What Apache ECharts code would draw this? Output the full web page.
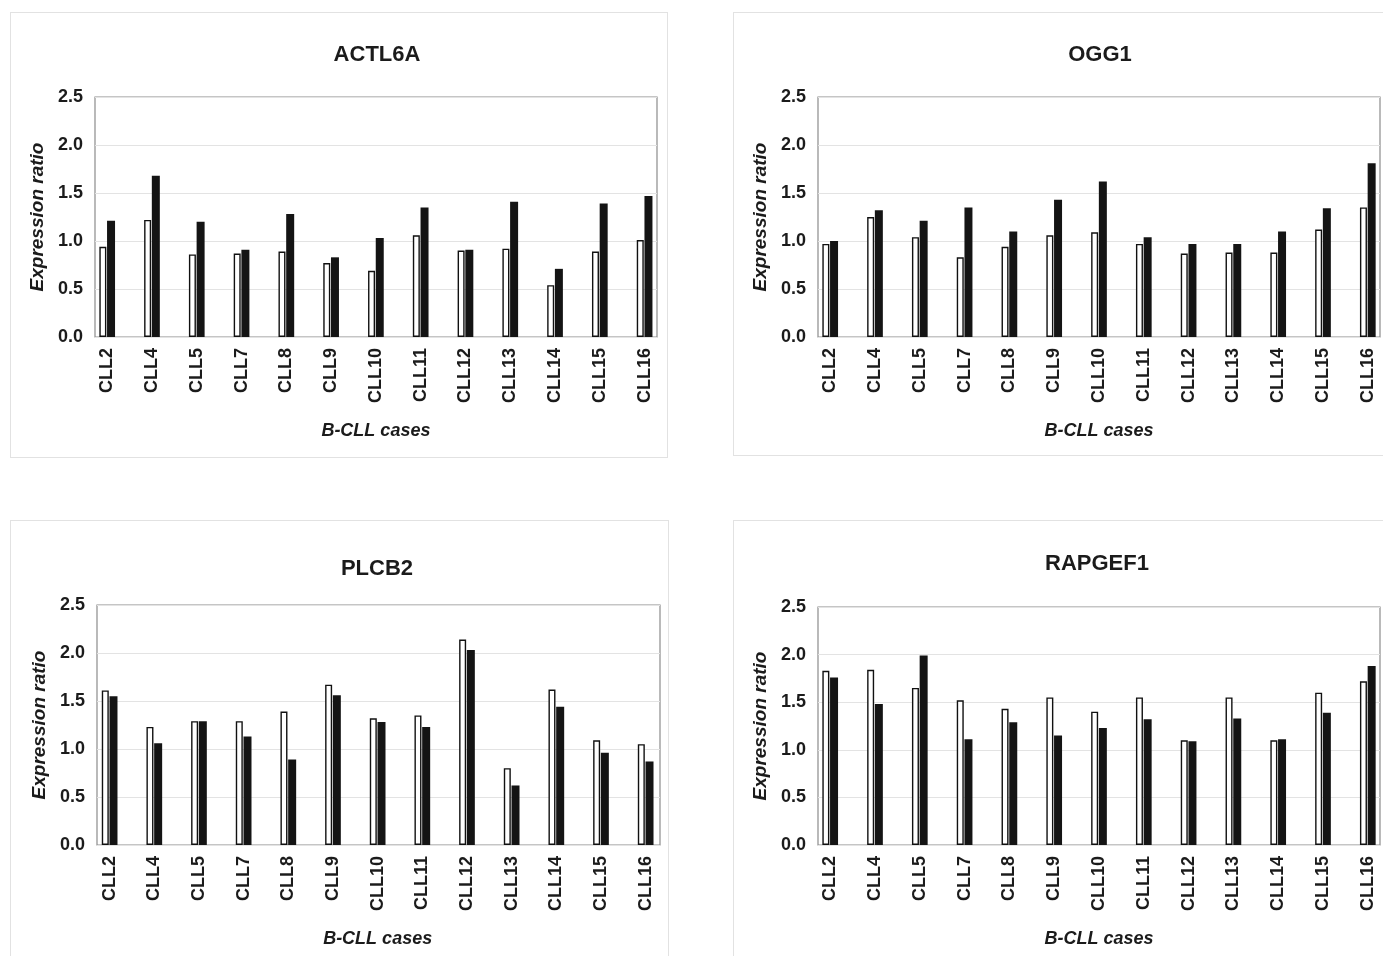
<!DOCTYPE html>
<html>
<head>
<meta charset="utf-8">
<script src="https://cdn.jsdelivr.net/npm/echarts@6/dist/echarts.min.js"></script>
<style>
    html, body { margin: 0; padding: 0; background: #fff; overflow: hidden; width: 1383px; height: 956px; }
    .panel { position: absolute; border: 1px solid #e2e2e2; box-sizing: border-box; }
</style>
</head>
<body>
<div id="p1" class="panel"></div>
<div id="p2" class="panel"></div>
<div id="p3" class="panel"></div>
<div id="p4" class="panel"></div>
<script>
var cases = ['CLL2','CLL4','CLL5','CLL7','CLL8','CLL9','CLL10','CLL11','CLL12','CLL13','CLL14','CLL15','CLL16'];
var yTicks = [0, 0.5, 1.0, 1.5, 2.0, 2.5];

var actl6aWhite = [0.94,1.22,0.86,0.87,0.89,0.77,0.69,1.06,0.90,0.92,0.54,0.89,1.01];
var actl6aBlack = [1.21,1.68,1.20,0.91,1.28,0.83,1.03,1.35,0.91,1.41,0.71,1.39,1.47];

var ogg1White = [0.97,1.25,1.04,0.83,0.94,1.06,1.09,0.97,0.87,0.88,0.88,1.12,1.35];
var ogg1Black = [1.00,1.32,1.21,1.35,1.10,1.43,1.62,1.04,0.97,0.97,1.10,1.34,1.81];

var plcb2White = [1.61,1.23,1.29,1.29,1.39,1.67,1.32,1.35,2.14,0.80,1.62,1.09,1.05];
var plcb2Black = [1.55,1.06,1.29,1.13,0.89,1.56,1.28,1.23,2.03,0.62,1.44,0.96,0.87];

var rapgef1White = [1.83,1.84,1.65,1.52,1.43,1.55,1.40,1.55,1.10,1.55,1.10,1.60,1.72];
var rapgef1Black = [1.76,1.48,1.99,1.11,1.29,1.15,1.23,1.32,1.09,1.33,1.11,1.39,1.88];

var FONT = 'Arial, "Liberation Sans", sans-serif';
var INK = '#1b1b1b';

// box = panel rectangle on the page, plot = framed plotting area on the page
function drawPanel(id, title, white, black, box, plot, titleXY){
    var el = document.getElementById(id);
    el.style.left = box[0] + 'px';
    el.style.top = box[1] + 'px';
    el.style.width = box[2] + 'px';
    el.style.height = box[3] + 'px';
    var chart = echarts.init(el);

    var ox = box[0] + 1, oy = box[1] + 1;
    var left = plot[0] - ox, top = plot[1] - oy;
    var w = plot[2] - plot[0], h = plot[3] - plot[1];
    // category bands are a little wider than the frame (bars hug the edges)
    var band = 44.8;
    var bw = band * cases.length;
    var bleft = left - (bw - w) / 2;

    var option = {
        animation: false,
        graphic: [{
            type: 'text',
            x: titleXY[0] - ox,
            y: titleXY[1] - oy + 2,
            style: {
                text: title, fill: INK, align: 'center', verticalAlign: 'middle',
                font: 'bold 22px ' + FONT
            }
        }],
        grid: [
            { left: left, top: top, width: w, height: h, show: true, borderColor: '#8c8c8c', borderWidth: 1.2, backgroundColor: '#fff' },
            { left: bleft, top: top, width: bw, height: h }
        ],
        xAxis: [
            { gridIndex: 0, type: 'category', data: cases, show: false },
            {
                gridIndex: 1, type: 'category', data: cases,
                axisLine: { show: false }, axisTick: { show: false },
                axisLabel: { rotate: 90, margin: 11, interval: 0, fontFamily: FONT, fontSize: 18, fontWeight: 'bold', color: INK },
                name: 'B-CLL cases', nameLocation: 'middle', nameGap: 85,
                nameTextStyle: { fontFamily: FONT, fontSize: 18, fontWeight: 'bold', fontStyle: 'italic', color: INK }
            }
        ],
        yAxis: [
            {
                gridIndex: 0, type: 'value', min: 0, max: 2.5, interval: 0.5,
                axisLine: { show: false }, axisTick: { show: false },
                splitLine: { lineStyle: { color: '#e3e3e3', width: 1.2 } },
                axisLabel: { margin: 12, fontFamily: FONT, fontSize: 18, fontWeight: 'bold', color: INK,
                    formatter: function(v){ return v.toFixed(1); } },
                name: 'Expression ratio', nameLocation: 'middle', nameGap: 45,
                nameTextStyle: { fontFamily: FONT, fontSize: 19, fontWeight: 'bold', fontStyle: 'italic', color: INK }
            },
            { gridIndex: 1, type: 'value', min: 0, max: 2.5, show: false }
        ],
        series: [
            {
                name: 'white', type: 'bar', xAxisIndex: 1, yAxisIndex: 1,
                data: white, barWidth: 7, barGap: '10%',
                itemStyle: { color: '#fff', borderColor: '#111', borderWidth: 1.4 }
            },
            {
                name: 'black', type: 'bar', xAxisIndex: 1, yAxisIndex: 1,
                data: black, barWidth: 8, barGap: '10%',
                itemStyle: { color: '#141414' }
            }
        ]
    };
    chart.setOption(option);
    return chart;
}

drawPanel('p1', 'ACTL6A', actl6aWhite, actl6aBlack, [10, 12, 658, 446], [95, 97, 657, 337], [377, 53]);
drawPanel('p2', 'OGG1', ogg1White, ogg1Black, [733, 12, 662, 444], [818, 97, 1380, 337], [1100, 53]);
drawPanel('p3', 'PLCB2', plcb2White, plcb2Black, [10, 520, 659, 450], [97, 605, 660, 845], [377, 567]);
drawPanel('p4', 'RAPGEF1', rapgef1White, rapgef1Black, [733, 520, 662, 450], [818, 607, 1380, 845], [1097, 562]);
</script>
</body>
</html>
